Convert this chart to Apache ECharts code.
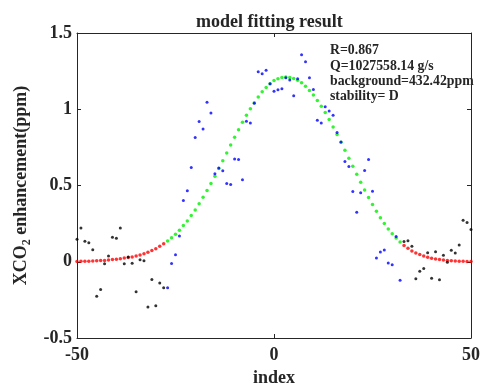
<!DOCTYPE html>
<html>
<head>
<meta charset="utf-8">
<script src="https://cdn.jsdelivr.net/npm/echarts@6/dist/echarts.min.js"></script>
<style>
html,body{margin:0;padding:0;background:#fff;}
#chart{width:480px;height:386px;}
</style>
</head>
<body>
<div id="chart"></div>
<script>
// index positions (-50 .. 50)
var indexX = [-50,-49,-48,-47,-46,-45,-44,-43,-42,-41,-40,-39,-38,-37,-36,-35,-34,-33,-32,-31,
  -30,-29,-28,-27,-26,-25,-24,-23,-22,-21,-20,-19,-18,-17,-16,-15,-14,-13,-12,-11,
  -10,-9,-8,-7,-6,-5,-4,-3,-2,-1,0,1,2,3,4,5,6,7,8,9,
  10,11,12,13,14,15,16,17,18,19,20,21,22,23,24,25,26,27,28,29,
  30,31,32,33,34,35,36,37,38,39,40,41,42,43,44,45,46,47,48,49,50];

// observed XCO2 enhancement (ppm)
var observed = [0.147,0.222,0.134,0.125,0.079,-0.226,-0.182,-0.013,0.037,0.160,
  0.154,0.222,-0.013,0.031,-0.010,-0.197,0.013,0.007,-0.296,-0.116,
  -0.289,-0.140,-0.171,-0.171,-0.011,0.046,0.169,0.401,0.465,0.618,
  0.814,0.919,0.871,1.046,0.976,0.577,0.614,0.597,0.513,0.507,
  0.673,0.671,0.538,0.921,0.910,1.040,1.246,1.233,1.255,1.167,
  1.118,1.128,1.134,1.207,1.191,1.088,1.200,1.357,1.312,1.207,
  1.130,0.928,0.910,1.016,0.989,0.961,0.847,0.785,0.658,0.625,
  0.461,0.325,0.452,0.599,0.671,0.463,0.024,0.064,0.077,-0.009,
  -0.020,0.165,-0.122,0.132,0.138,0.101,-0.112,-0.063,-0.044,0.059,
  -0.109,0.066,-0.118,0.042,-0.004,0.075,0.057,0.110,0.272,0.257,0.211];

// fitted model values (ppm)
var fitted = [0.002,0.003,0.003,0.004,0.005,0.006,0.008,0.009,0.011,0.014,
  0.017,0.020,0.024,0.028,0.031,0.037,0.044,0.053,0.062,0.073,
  0.086,0.101,0.118,0.136,0.157,0.181,0.207,0.237,0.268,0.303,
  0.340,0.380,0.423,0.467,0.513,0.561,0.611,0.662,0.713,0.765,
  0.816,0.866,0.914,0.960,1.004,1.043,1.081,1.114,1.143,1.168,
  1.188,1.200,1.208,1.211,1.209,1.202,1.190,1.173,1.151,1.123,
  1.094,1.057,1.020,0.978,0.932,0.884,0.834,0.783,0.731,0.679,
  0.626,0.574,0.522,0.471,0.421,0.375,0.331,0.289,0.251,0.215,
  0.184,0.155,0.129,0.107,0.088,0.071,0.058,0.047,0.037,0.029,
  0.023,0.018,0.014,0.011,0.009,0.007,0.005,0.004,0.003,0.002,0.002];

// plume window (inclusive)
var plumeStart = -27;
var plumeEnd = 32;

var xTicks = [-50, 0, 50];
var yTicks = [-0.5, 0, 0.5, 1, 1.5];

var titleText = 'model fitting result';
var xName = 'index';
var infoLines = ['R=0.867', 'Q=1027558.14 g/s', 'background=432.42ppm', 'stability= D'];

var obsIn = [], obsOut = [], fitIn = [], fitOut = [];
for (var i = 0; i < indexX.length; i++) {
  var inside = indexX[i] >= plumeStart && indexX[i] <= plumeEnd;
  (inside ? obsIn : obsOut).push([indexX[i], observed[i]]);
  (inside ? fitIn : fitOut).push([indexX[i], fitted[i]]);
}

var FONT = '"Liberation Serif","Times New Roman",serif';
var TXT = '#262626';
var AX = '#262626';

function axisCommon(showLabel) {
  return {
    axisLine: {show: true, onZero: false, lineStyle: {color: AX, width: 1}},
    axisTick: {show: true, inside: true, length: 4, lineStyle: {color: AX}},
    splitLine: {show: false},
    axisLabel: {show: showLabel, fontFamily: FONT, fontWeight: 'bold', fontSize: 18, color: TXT}
  };
}

var chart = echarts.init(document.getElementById('chart'), null, {renderer: 'canvas'});

var xBottom = Object.assign(axisCommon(true), {
  type: 'value', position: 'bottom', min: xTicks[0], max: xTicks[xTicks.length - 1],
  interval: xTicks[1] - xTicks[0],
  name: xName, nameLocation: 'middle', nameGap: 29,
  nameTextStyle: {fontFamily: FONT, fontWeight: 'bold', fontSize: 18, color: TXT}
});
xBottom.axisLabel.margin = 8;
var xTop = Object.assign(axisCommon(false), {
  type: 'value', position: 'top', min: xTicks[0], max: xTicks[xTicks.length - 1],
  interval: xTicks[1] - xTicks[0]
});
var yLeft = Object.assign(axisCommon(true), {
  type: 'value', position: 'left', min: yTicks[0], max: yTicks[yTicks.length - 1],
  interval: yTicks[1] - yTicks[0],
  name: '{a|XCO}{s|2}{a| enhancement(ppm)}', nameLocation: 'middle', nameGap: 43, nameRotate: 90,
  nameTextStyle: {
    rich: {
      a: {fontFamily: FONT, fontWeight: 'bold', fontSize: 18, color: TXT, lineHeight: 22},
      s: {fontFamily: FONT, fontWeight: 'bold', fontSize: 12, color: TXT, verticalAlign: 'bottom', lineHeight: 22}
    }
  }
});
yLeft.axisLabel.margin = 5;
var yRight = Object.assign(axisCommon(false), {
  type: 'value', position: 'right', min: yTicks[0], max: yTicks[yTicks.length - 1],
  interval: yTicks[1] - yTicks[0]
});

function sc(name, data, color, size) {
  return {
    name: name, type: 'scatter', data: data, xAxisIndex: 0, yAxisIndex: 0,
    symbol: 'circle', symbolSize: size, itemStyle: {color: color}, silent: true,
    animation: false
  };
}

chart.setOption({
  animation: false,
  backgroundColor: '#ffffff',
  title: {
    text: titleText, left: 191, top: 8,
    textStyle: {fontFamily: FONT, fontWeight: 'bold', fontSize: 18, color: TXT}
  },
  grid: {left: 77, right: 9, top: 33, bottom: 48, containLabel: false, outerBoundsMode: 'none'},
  xAxis: [xBottom, xTop],
  yAxis: [yLeft, yRight],
  graphic: [{
    type: 'text', left: 330, top: 43,
    style: {
      text: infoLines.join('\n'), font: 'bold 13.8px ' + FONT, fill: TXT, lineHeight: 15.3
    }
  }],
  series: [
    sc('fit-out', fitOut, '#ff0000', 3.5),
    sc('fit-in', fitIn, '#00f000', 3.5),
    sc('obs-out', obsOut, '#000000', 3),
    sc('obs-in', obsIn, '#0000ff', 3)
  ]
});
</script>
</body>
</html>
